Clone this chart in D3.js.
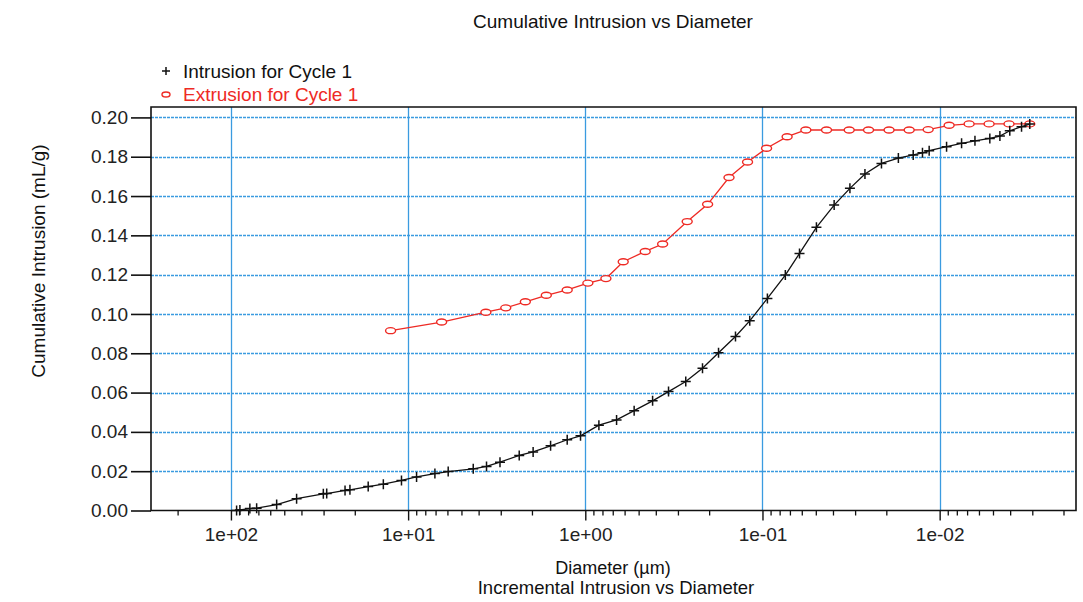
<!DOCTYPE html>
<html>
<head>
<meta charset="utf-8">
<script src="https://cdn.jsdelivr.net/npm/d3@7"></script>
<style>
  html, body { margin: 0; padding: 0; background: #fff; }
  svg { display: block; font-family: "Liberation Sans", Arial, sans-serif; }
</style>
</head>
<body>
<svg id="chart" width="1083" height="602"></svg>
<script>
// Mercury porosimetry, cycle 1: pore diameter (µm) vs cumulative intrusion (mL/g)
const intrusionDiameter = [92.9, 89.0, 78.2, 71.6, 55.2, 42.6, 30.1, 28.8, 22.7, 21.3, 16.8, 13.8,
  10.9, 8.96, 7.06, 5.94, 4.29, 3.61, 3.03, 2.36, 1.97, 1.57, 1.265, 1.064, 0.838, 0.666, 0.530,
  0.417, 0.339, 0.271, 0.218, 0.177, 0.142, 0.118, 0.0938, 0.0743, 0.0618, 0.0496, 0.0394, 0.0321,
  0.0264, 0.0213, 0.0171, 0.0141, 0.0125, 0.01146, 0.00914, 0.00752, 0.00632, 0.00521, 0.00457,
  0.00402, 0.00345, 0.00310];
const intrusionVolume = [0.0000, 0.0003, 0.0010, 0.0012, 0.0030, 0.0060, 0.0085, 0.0086, 0.0102,
  0.0105, 0.0122, 0.0134, 0.0153, 0.0171, 0.0188, 0.0198, 0.0212, 0.0224, 0.0246, 0.0280, 0.0298,
  0.0329, 0.0360, 0.0380, 0.0434, 0.0461, 0.0508, 0.0558, 0.0605, 0.0656, 0.0724, 0.0803, 0.0885,
  0.0965, 0.1079, 0.1198, 0.1308, 0.1441, 0.1554, 0.1639, 0.1712, 0.1766, 0.1793, 0.1809, 0.1820,
  0.1831, 0.1851, 0.1868, 0.1881, 0.1893, 0.1905, 0.1932, 0.1953, 0.1966];

const extrusionDiameter = [12.56, 6.47, 3.64, 2.81, 2.18, 1.66, 1.265, 0.967, 0.765, 0.611, 0.459,
  0.366, 0.266, 0.204, 0.1545, 0.1214, 0.0948, 0.0726, 0.0569, 0.0435, 0.0324, 0.0252, 0.0193,
  0.01486, 0.01161, 0.00884, 0.00682, 0.00526, 0.00406, 0.00310];
const extrusionVolume = [0.0915, 0.0959, 0.1009, 0.1031, 0.1062, 0.1095, 0.1122, 0.1157, 0.1180,
  0.1266, 0.1318, 0.1356, 0.1470, 0.1558, 0.1694, 0.1773, 0.1843, 0.1902, 0.1936, 0.1936, 0.1936,
  0.1936, 0.1936, 0.1936, 0.1938, 0.1960, 0.1967, 0.1967, 0.1967, 0.1967];

const xTickValues = [100, 10, 1, 0.1, 0.01];
const xTickLabels = ["1e+02", "1e+01", "1e+00", "1e-01", "1e-02"];
const yTickValues = [0.00, 0.02, 0.04, 0.06, 0.08, 0.10, 0.12, 0.14, 0.16, 0.18, 0.20];
const seriesNames = ["Intrusion for Cycle 1", "Extrusion for Cycle 1"];

const titleText = "Cumulative Intrusion vs Diameter";
const xTitle = "Diameter (µm)";
const xSubTitle = "Incremental Intrusion vs Diameter";
const yTitle = "Cumulative Intrusion (mL/g)";

// ---- layout ----
const plot = { left: 151, right: 1076, top: 107, bottom: 510.5 };
const gridColor = "#3a9be0";
const red = "#ee2a24";
const fontSize = 19;

const svg = d3.select("#chart");

// Diameter axis runs from large pores on the left to small pores on the right
const x = d3.scaleLog().domain([282.6, 0.0017]).range([plot.left, plot.right]);
const y = d3.scaleLinear().domain([0, 0.2053]).range([plot.bottom, plot.top]);

// grid
const grid = svg.append("g");
grid.selectAll("line.h").data(yTickValues.filter(v => v > 0)).join("line")
  .attr("x1", plot.left).attr("x2", plot.right)
  .attr("y1", d => Math.round(y(d)) + 0.5).attr("y2", d => Math.round(y(d)) + 0.5)
  .attr("stroke", gridColor).attr("stroke-width", 1.3).attr("stroke-dasharray", "3,1");
grid.selectAll("line.v").data(xTickValues).join("line")
  .attr("x1", d => Math.round(x(d)) + 0.5).attr("x2", d => Math.round(x(d)) + 0.5)
  .attr("y1", plot.top).attr("y2", plot.bottom)
  .attr("stroke", gridColor).attr("stroke-width", 1.3);

// minor log ticks (2..9 within each decade)
const minorTicks = [];
for (let e = -3; e <= 2; e++) {
  for (let m = 2; m <= 9; m++) {
    const v = m * Math.pow(10, e);
    if (v < 282.6 && v > 0.0017) minorTicks.push(v);
  }
}

const xMinor = svg.append("g").attr("transform", `translate(0,${plot.bottom})`)
  .call(d3.axisBottom(x).tickValues(minorTicks).tickSize(5).tickFormat(""));
xMinor.select(".domain").remove();
xMinor.selectAll("line").attr("stroke", "#111").attr("stroke-width", 1.3);

const xAxis = svg.append("g").attr("transform", `translate(0,${plot.bottom})`)
  .call(d3.axisBottom(x).tickValues(xTickValues).tickSize(10).tickPadding(7)
    .tickFormat((d, i) => xTickLabels[i]));
xAxis.select(".domain").remove();
xAxis.selectAll("line").attr("stroke", "#111").attr("stroke-width", 1.4);
xAxis.selectAll("text").attr("font-size", fontSize).attr("fill", "#222")
  .attr("font-family", "Liberation Sans, Arial, sans-serif");

const yAxis = svg.append("g").attr("transform", `translate(${plot.left},0)`)
  .call(d3.axisLeft(y).tickValues(yTickValues).tickSize(20).tickPadding(3).tickFormat(d3.format(".2f")));
yAxis.select(".domain").remove();
yAxis.selectAll("line").attr("stroke", "#111").attr("stroke-width", 1.6);
yAxis.selectAll("text").attr("font-size", fontSize).attr("fill", "#222")
  .attr("font-family", "Liberation Sans, Arial, sans-serif");

// plot frame
svg.append("path")
  .attr("d", `M${plot.left},${plot.bottom}V${plot.top}H${plot.right}V${plot.bottom}Z`)
  .attr("fill", "none").attr("stroke", "#111").attr("stroke-width", 1.6);

// series
const intrusion = intrusionDiameter.map((d, i) => [d, intrusionVolume[i]]);
const extrusion = extrusionDiameter.map((d, i) => [d, extrusionVolume[i]]);
const line = d3.line().x(d => x(d[0])).y(d => y(d[1]));

svg.append("path").datum(extrusion).attr("d", line)
  .attr("fill", "none").attr("stroke", red).attr("stroke-width", 1.3);
svg.append("g").selectAll("ellipse").data(extrusion).join("ellipse")
  .attr("cx", d => x(d[0])).attr("cy", d => y(d[1]))
  .attr("rx", 5).attr("ry", 3)
  .attr("fill", "#fff").attr("stroke", red).attr("stroke-width", 1.4);

svg.append("path").datum(intrusion).attr("d", line)
  .attr("fill", "none").attr("stroke", "#111").attr("stroke-width", 1.3);
const plus = (cx, cy, r) => `M${cx - r},${cy}H${cx + r}M${cx},${cy - r}V${cy + r}`;
svg.append("g").selectAll("path").data(intrusion).join("path")
  .attr("d", d => plus(x(d[0]), y(d[1]), 5))
  .attr("stroke", "#111").attr("stroke-width", 1.5).attr("fill", "none");

// legend
const legend = svg.append("g");
legend.append("path").attr("d", plus(166, 71, 4)).attr("stroke", "#111").attr("stroke-width", 1.5);
legend.append("text").attr("x", 183).attr("y", 78).attr("font-size", fontSize).attr("fill", "#111")
  .text(seriesNames[0]);
legend.append("ellipse").attr("cx", 166).attr("cy", 94.5).attr("rx", 4).attr("ry", 2.5)
  .attr("fill", "#fff").attr("stroke", red).attr("stroke-width", 1.4);
legend.append("text").attr("x", 183).attr("y", 101).attr("font-size", fontSize).attr("fill", red)
  .text(seriesNames[1]);

// titles
svg.append("text").attr("x", 613).attr("y", 28).attr("text-anchor", "middle")
  .attr("font-size", fontSize).attr("fill", "#111").text(titleText);
svg.append("text").attr("x", 613).attr("y", 574).attr("text-anchor", "middle")
  .attr("font-size", 18).attr("fill", "#111").text(xTitle);
svg.append("text").attr("x", 616).attr("y", 594).attr("text-anchor", "middle")
  .attr("font-size", 18.5).attr("fill", "#111").text(xSubTitle);
svg.append("text").attr("transform", "translate(45,261) rotate(-90)").attr("text-anchor", "middle")
  .attr("font-size", fontSize).attr("fill", "#111").text(yTitle);
</script>
</body>
</html>
